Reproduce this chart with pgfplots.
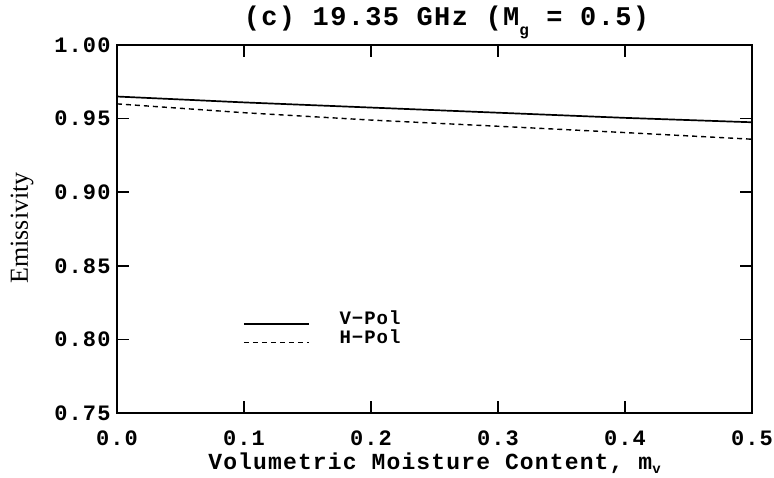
\documentclass[border=0pt]{standalone}
\usepackage{pgfplots}
\pgfplotsset{compat=1.18}
\usepackage{fontspec}
\setmainfont{Liberation Mono}[UprightFont={* Bold}, LetterSpace=5]
\newfontfamily\labserif{Liberation Serif}
\begin{document}
\begin{tikzpicture}
\path[use as bounding box] (-117pt,-64pt) rectangle (657pt,413pt);
\begin{axis}[
  at={(0pt,0pt)}, anchor=south west,
  scale only axis, width=635pt, height=368pt,
  xmin=0, xmax=0.5, ymin=0.75, ymax=1.0,
  xtick={0,0.1,0.2,0.3,0.4,0.5},
  xticklabels={0.0,0.1,0.2,0.3,0.4,0.5},
  ytick={0.75,0.8,0.85,0.9,0.95,1.0},
  yticklabels={0.75,0.80,0.85,0.90,0.95,1.00},
  tick align=inside, major tick length=12pt, minor tick num=0,
  axis line style={line width=1.7pt},
  every tick/.style={line width=1.5pt, black},
  ticklabel style={font=\fontsize{22}{22}\selectfont},
  xticklabel style={anchor=base, yshift=-32pt},
  yticklabel style={anchor=east, xshift=-3pt},
  title={(c) 19.35 GHz (M\raisebox{-0.35em}{\fontsize{16}{16}\selectfont g} = 0.5)},
  title style={font=\fontsize{27}{27}\selectfont, at={(0.5,1)}, anchor=base, yshift=13pt, xshift=12pt},
  xlabel={Volumetric Moisture Content, m\raisebox{-0.2em}{\fontsize{14}{14}\selectfont v}},
  xlabel style={font=\fontsize{23}{23}\selectfont, at={(0.5,0)}, anchor=base, yshift=-56pt},
  ylabel={Emissivity},
  ylabel style={font=\labserif\fontsize{26}{26}\selectfont, at={(-0.1496,0.503)}, anchor=center},
  legend style={draw=none, fill=none, inner sep=0pt, at={(0.198,0.283)}, anchor=north west,
    font=\fontsize{19}{19}\selectfont, row sep=-1pt},
  legend image code/.code={\draw[#1] (0pt,-5.5pt) -- (65pt,-5.5pt); \path (93pt,0pt);},
  legend cell align=left,
]
\addplot[black, line width=1.7pt] coordinates {
  (0,0.965) (0.1,0.961) (0.2,0.9575) (0.3,0.954) (0.4,0.9505) (0.5,0.9475)};
\addlegendentry{V−Pol}
\addplot[black, line width=1.4pt, dash pattern=on 5pt off 4pt] coordinates {
  (0,0.960) (0.1,0.954) (0.2,0.949) (0.3,0.9448) (0.4,0.9405) (0.5,0.936)};
\addlegendentry{H−Pol}
\end{axis}
\end{tikzpicture}
\end{document}
